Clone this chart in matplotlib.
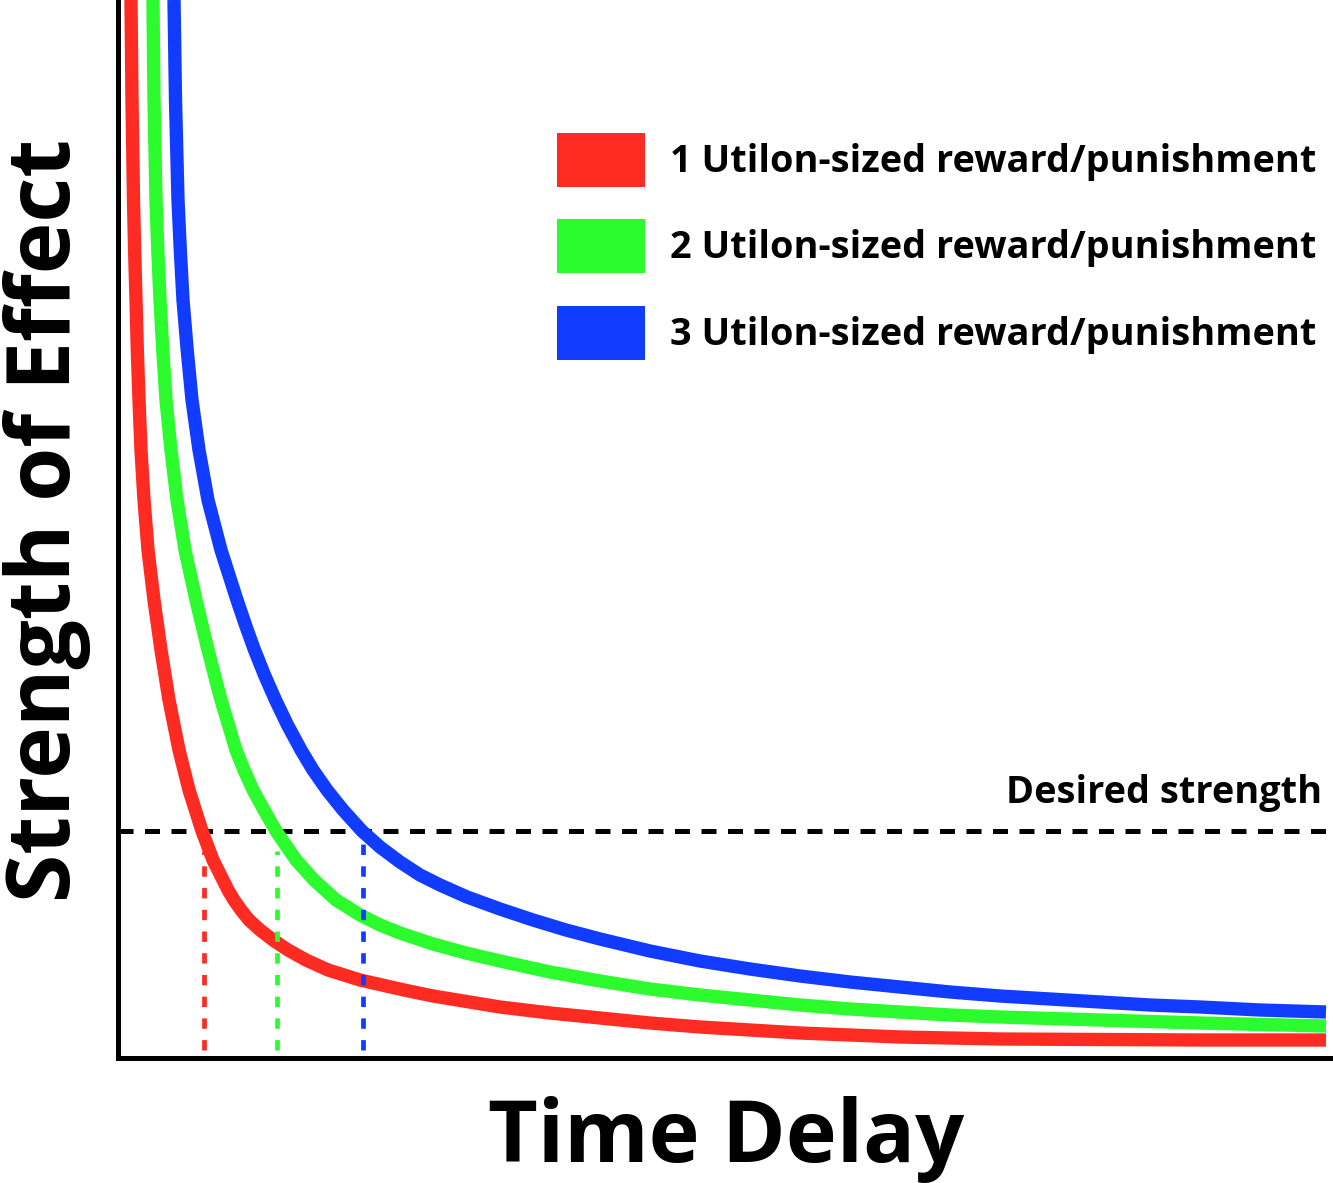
import matplotlib
matplotlib.use("Agg")
import matplotlib.pyplot as plt
from matplotlib.patches import Rectangle

plt.rcParams['font.family'] = ['Open Sans', 'DejaVu Sans']
plt.rcParams['font.weight'] = 'bold'

# values (delay, strength in arbitrary units)
delay_1 = [13, 14, 15.5, 16.6, 18, 19.3, 21, 23, 26, 30, 36, 43, 51, 61, 71, 84, 95,
           105, 110, 116, 123, 131, 142, 155, 170, 188, 210, 242, 286, 315, 382,
           432, 482, 532, 582, 632, 682, 732, 782, 832, 882, 982, 1082, 1208]
strength_1 = [1058, 958, 858, 808, 758, 708, 658, 608, 558, 508, 458, 408, 358, 308,
              268, 227, 198, 178, 168, 158, 148, 138, 128, 118, 108, 98, 88, 78, 68,
              62, 51, 45, 40, 35, 31, 28, 25, 23, 21, 20, 19, 18.5, 18, 18]

delay_2 = [35, 36, 38, 39.8, 42, 44.8, 48, 53, 59, 67, 78, 90, 103, 118, 126, 135,
           146, 158, 178, 196, 218, 242, 262, 282, 315, 348, 382, 432, 482, 532,
           582, 632, 682, 732, 782, 832, 882, 982, 1082, 1208]
strength_2 = [1058, 958, 858, 808, 758, 708, 658, 608, 558, 508, 458, 408, 358, 308,
              288, 268, 248, 227, 198, 178, 158, 143, 133, 125, 114, 105, 97, 86, 77,
              69, 63, 58, 53, 49, 46, 43, 41, 38, 35, 32]

delay_3 = [56, 57.5, 60, 62.3, 65, 69.2, 74, 81, 90, 103, 119, 127.5, 136.5, 146.5,
           157.5, 169.5, 183, 195, 209, 225, 244, 262, 282, 302, 322, 349, 382,
           415, 448, 482, 532, 582, 632, 682, 732, 782, 832, 882, 932, 982, 1032,
           1082, 1142, 1208]
strength_3 = [1058, 958, 858, 808, 758, 708, 658, 608, 558, 508, 458, 433, 408, 383,
              358, 333, 308, 288, 268, 248, 227, 211, 196, 183, 173, 161, 149, 138,
              128, 119, 107, 97, 89, 82, 76, 71, 66, 62, 59, 56, 53, 51, 48, 46]

desired_strength = 227
crossing_delays = [86, 159, 245]
drop_tops = [207, 207, 218]

labels = ['1 Utilon-sized reward/punishment',
          '2 Utilon-sized reward/punishment',
          '3 Utilon-sized reward/punishment']
colors = ['#fe2b22', '#2cfb2e', '#113cff']

W, H = 1333, 1183
fig = plt.figure(figsize=(W / 100, H / 100), dpi=100)
ax = fig.add_axes([118 / W, (H - 1058) / H, 1 - 118 / W, 1058 / H])
ax.set_xlim(0, 1215)
ax.set_ylim(0, 1058)
ax.set_xticks([])
ax.set_yticks([])
for side in ['top', 'right']:
    ax.spines[side].set_visible(False)
for side in ['left', 'bottom']:
    ax.spines[side].set_linewidth(3.6)
    ax.spines[side].set_color('black')

# desired strength line
ax.axhline(desired_strength, color='black', lw=3.6, dashes=(3.0, 2.3), zorder=2)

series = [(delay_1, strength_1), (delay_2, strength_2), (delay_3, strength_3)]
for (d, s), c in zip(series, colors):
    ax.plot(d, s, color=c, lw=9.6, solid_capstyle='butt', solid_joinstyle='round', zorder=3)

# drop lines at the crossings
for xc, top, c in zip(crossing_delays, drop_tops, colors):
    ax.plot([xc, xc], [8, top], color=c, lw=3.4, dashes=(2.2, 2.4), zorder=4)

ax.text(1204, 255, 'Desired strength', ha='right', va='baseline',
        fontsize=27.3, fontweight='bold')

# legend
box_tops = [133, 219, 306]
for top, c, lab in zip(box_tops, colors, labels):
    fig.patches.append(Rectangle((557 / W, 1 - (top + 54) / H), 88 / W, 54 / H,
                                 transform=fig.transFigure, facecolor=c,
                                 edgecolor='none'))
    fig.text(670 / W, 1 - (top + 39) / H, lab, ha='left', va='baseline',
             fontsize=27.3, fontweight='bold')

fig.text(726 / W, 1 - 1162 / H, 'Time Delay', ha='center', va='baseline',
         fontsize=62, fontweight='bold')
fig.text(3 / W, 1 - 520 / H, 'Strength of Effect', ha='left', va='center',
         rotation=90, fontsize=63, fontweight='bold')

fig.savefig('out.png', dpi=100)
